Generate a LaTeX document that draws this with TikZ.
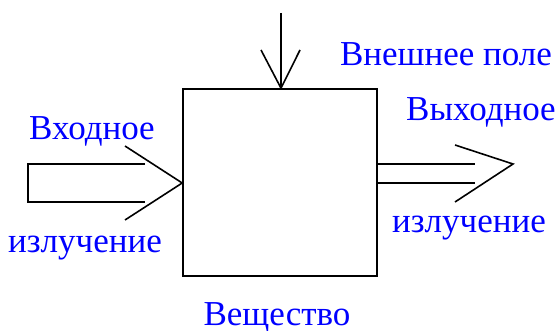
\documentclass[tikz,border=0pt]{standalone}
\usepackage{fontspec}
\setmainfont{Liberation Serif}
\newfontfamily\lblfont{Liberation Serif}
\tikzset{
  lbl/.style={text=blue, inner sep=0, anchor=base, font=\lblfont\fontsize{35}{42}\selectfont},
  ray/.style={line width=1.6}
}
\begin{document}
\begin{tikzpicture}[x=1pt, y=-1pt]
  \useasboundingbox (0,0) rectangle (557,331);

  % the substance
  \node[draw, line width=1.6, minimum width=194, minimum height=187,
        inner sep=0] (sub) at (280,182.5) {};

  % external field, from above
  \coordinate (fieldtop) at (281,13);
  \coordinate (fieldtip) at (sub.north -| fieldtop);
  \draw[ray] (fieldtop) -- (fieldtip);
  \draw[ray] (261,50) -- (fieldtip) -- (300,50);

  % incoming radiation
  \coordinate (intip) at (sub.west |- 0,183);
  \draw[ray] (145,164) -- (28,164) -- (28,202) -- (145,202);
  \draw[ray] (125,146) -- (intip) -- (125,220);

  % outgoing radiation
  \coordinate (outtip) at (513,164);
  \draw[ray] (sub.east |- 0,164) -- (475,164);
  \draw[ray] (sub.east |- 0,183) -- (475,183);
  \draw[ray] (455,145) -- (outtip) -- (455,202);

  \node[lbl] (field) at (446,66) {Внешнее поле};
  \node[lbl] (inA) at (92,140) {Входное};
  \node[lbl] (inB) at (85,252) {излучение};
  \node[lbl] (outA) at (481,121) {Выходное};
  \node[lbl] (outB) at (469,233) {излучение};
  \node[lbl] (name) at (277,325) {Вещество};
\end{tikzpicture}
\end{document}
